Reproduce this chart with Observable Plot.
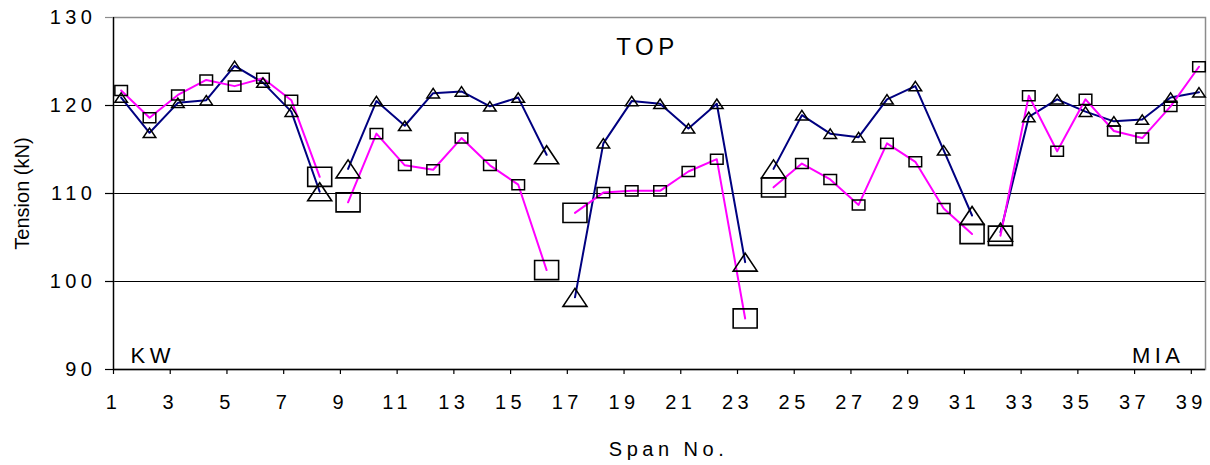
<!DOCTYPE html>
<html>
<head>
<meta charset="utf-8">
<script src="https://cdn.jsdelivr.net/npm/d3@7"></script>
<script src="https://cdn.jsdelivr.net/npm/@observablehq/plot@0.6"></script>
<style>
  html, body { margin: 0; padding: 0; background: #fff; }
  #chart svg text { letter-spacing: 4.5px; }
  #chart svg text.nospace { letter-spacing: 0px; }
</style>
</head>
<body>
<div id="chart"></div>
<script>
// ---- data ----
const spans = [1,2,3,4,5,6,7,8,9,10,11,12,13,14,15,16,17,18,19,20,21,22,23,24,25,26,27,28,29,30,31,32,33,34,35,36,37,38,39];
const triangleSeries = [120.9,116.9,120.3,120.6,124.5,122.6,119.3,110.2,112.8,120.5,117.7,121.4,121.6,119.9,120.9,114.4,98.2,115.7,120.5,120.2,117.4,120.2,102.2,112.8,118.9,116.8,116.4,120.7,122.2,114.9,107.5,105.6,118.7,120.7,119.3,118.2,118.4,120.9,121.5];
const squareSeries   = [121.7,118.6,121.2,122.9,122.2,123.1,120.6,111.9,109.0,116.8,113.2,112.7,116.3,113.2,111.0,101.3,107.8,110.1,110.3,110.3,112.5,113.9,95.8,110.7,113.4,111.6,108.7,115.7,113.6,108.3,105.4,105.2,121.1,114.8,120.7,117.1,116.3,119.9,124.4];
const segmentStarts = [1, 9, 17, 24, 32];
const xTicks = [1,3,5,7,9,11,13,15,17,19,21,23,25,27,29,31,33,35,37,39];
const yTicks = [90,100,110,120,130];
const gridLines = [100,110,120];
const annotations = { top: "TOP", left: "KW", right: "MIA" };
const xLabel = "Span No.";
const yLabel = "Tension (kN)";

// ---- build table ----
const xOffset = 0.27;
function segmentOf(s) { return segmentStarts.filter(t => t <= s).length; }
function isBoundary(s) {
  return (segmentStarts.includes(s) && s !== spans[0]) ||
         (segmentStarts.includes(s + 1));
}
const rows = [];
spans.forEach((s, i) => {
  rows.push({span: s, value: triangleSeries[i], series: "tri", segment: segmentOf(s), big: isBoundary(s)});
  rows.push({span: s, value: squareSeries[i], series: "sq", segment: segmentOf(s), big: isBoundary(s)});
});

// custom marker shapes (slightly wider than tall, as in the reference)
const boxSymbol = {
  draw(ctx, size) {
    const r = Math.sqrt(size / Math.PI), w = r, h = r * 0.8;
    ctx.moveTo(-w, -h); ctx.lineTo(w, -h); ctx.lineTo(w, h); ctx.lineTo(-w, h); ctx.closePath();
  }
};
const triSymbol = {
  draw(ctx, size) {
    const r = Math.sqrt(size / Math.PI), w = r, h = r * 0.75;
    ctx.moveTo(0, -h); ctx.lineTo(w, h); ctx.lineTo(-w, h); ctx.closePath();
  }
};

const X = d => d.span + xOffset;
const font = "'Liberation Sans', Arial, Helvetica, sans-serif";

const chart = Plot.plot({
  width: 1210,
  height: 465,
  marginLeft: 113,
  marginRight: 5,
  marginTop: 17,
  marginBottom: 96,
  style: { fontFamily: font, fontSize: "20px", color: "black", background: "white" },
  x: { domain: [1, 39.5] },
  y: { domain: [90, 130] },
  marks: [
    Plot.ruleY(gridLines, { stroke: "black", strokeWidth: 1 }),
    Plot.frame({ stroke: "#8c8c8c", strokeWidth: 1.5 }),
    Plot.ruleX([1], { stroke: "black", strokeWidth: 1.3 }),
    Plot.ruleY([90], { stroke: "black", strokeWidth: 1.3 }),
    Plot.axisY({ ticks: yTicks, tickSize: 8, tickPadding: 9, fontSize: 20, label: null,
                 stroke: d => d === 130 ? "#8c8c8c" : "black", strokeWidth: 1.2 }),
    Plot.axisX({ ticks: xTicks, tickSize: 5, tickPadding: 20, fontSize: 20, label: null,
                 tickFormat: d => String(d), strokeWidth: 1.2 }),
    Plot.line(rows.filter(d => d.series === "tri"), { x: X, y: "value", z: "segment", stroke: "#000080", strokeWidth: 2 }),
    Plot.line(rows.filter(d => d.series === "sq"), { x: X, y: "value", z: "segment", stroke: "#ff00ff", strokeWidth: 2 }),
    Plot.dot(rows.filter(d => d.series === "tri" && !d.big), { x: X, y: "value", symbol: triSymbol, r: 6.3, stroke: "black", strokeWidth: 1.5, fill: "none" }),
    Plot.dot(rows.filter(d => d.series === "sq" && !d.big), { x: X, y: "value", symbol: boxSymbol, r: 6.3, stroke: "black", strokeWidth: 1.5, fill: "none" }),
    Plot.dot(rows.filter(d => d.series === "tri" && d.big), { x: X, y: "value", symbol: triSymbol, r: 12, stroke: "black", strokeWidth: 1.6, fill: "none" }),
    Plot.dot(rows.filter(d => d.series === "sq" && d.big), { x: X, y: "value", symbol: boxSymbol, r: 12, stroke: "black", strokeWidth: 1.6, fill: "none" }),
    Plot.text([annotations.top], { text: d => d, frameAnchor: "top", lineAnchor: "middle", dx: -12, dy: 30, fontSize: 24, fill: "black" }),
    Plot.text([annotations.left], { text: d => d, frameAnchor: "bottom-left", textAnchor: "start", lineAnchor: "middle", dx: 17, dy: -14, fontSize: 22, fill: "black" }),
    Plot.text([annotations.right], { text: d => d, frameAnchor: "bottom-right", textAnchor: "end", lineAnchor: "middle", dx: -21, dy: -14, fontSize: 22, fill: "black" }),
    Plot.text([xLabel], { text: d => d, frameAnchor: "bottom", lineAnchor: "middle", dx: 9, dy: 80, fontSize: 20, fill: "black" }),
    Plot.text([yLabel], { text: d => d, frameAnchor: "left", textAnchor: "middle", lineAnchor: "middle", rotate: -90, dx: -91, dy: 0, fontSize: 20, fill: "black" })
  ]
});
d3.select(chart).selectAll("text")
  .filter(function () { return this.textContent === yLabel; })
  .classed("nospace", true)
  .style("letter-spacing", "0px");
document.getElementById("chart").appendChild(chart);
</script>
</body>
</html>
